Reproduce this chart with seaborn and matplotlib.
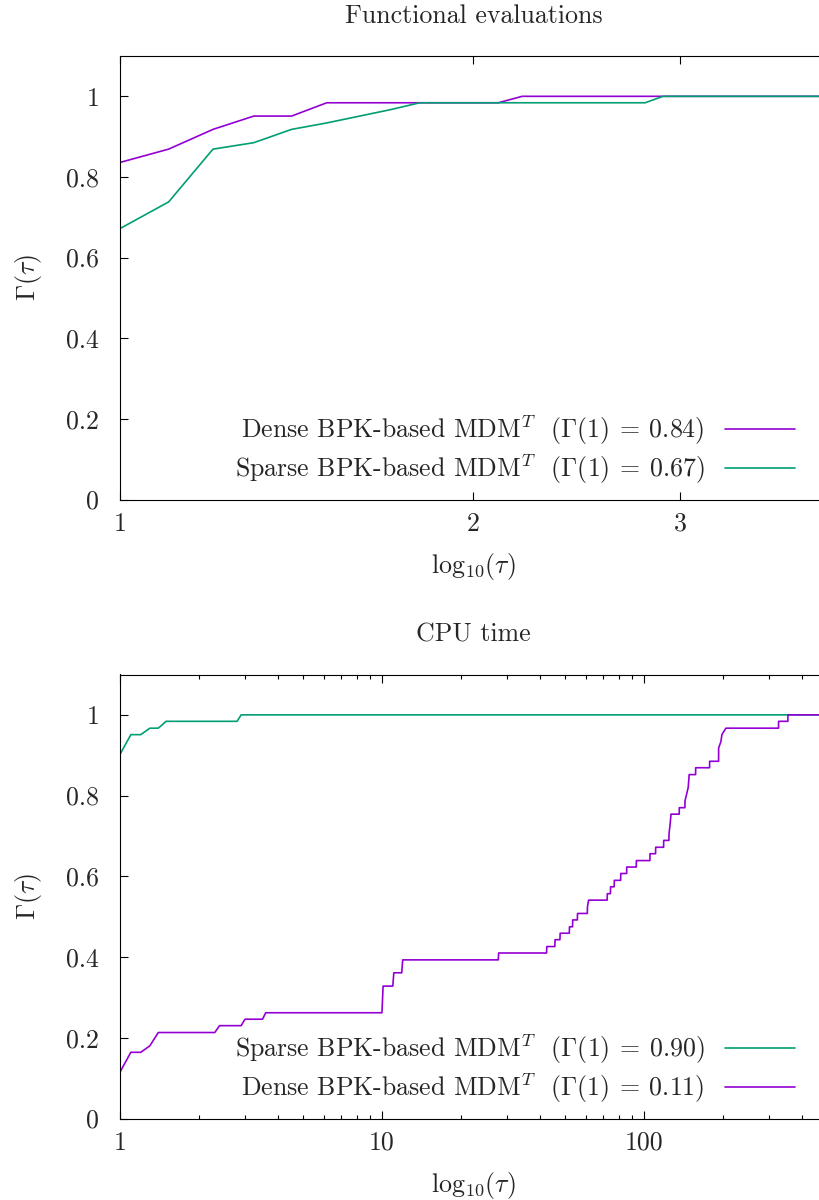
import matplotlib
matplotlib.use("Agg")
import matplotlib.pyplot as plt
import matplotlib.ticker as mticker
import pandas as pd
import seaborn as sns

# functional evaluations profile (tau, Gamma)
fe_dense_tau = [1.0, 1.1, 1.2, 1.3, 1.4, 1.5, 2.1, 2.2, 4.0]
fe_dense_gam = [0.836, 0.869, 0.918, 0.951, 0.951, 0.984, 0.984, 1.0, 1.0]
fe_sparse_tau = [1.0, 1.1, 1.2, 1.3, 1.4, 1.5, 1.6, 1.7, 1.8, 2.8, 2.9, 4.0]
fe_sparse_gam = [0.672, 0.738, 0.869, 0.885, 0.918, 0.934, 0.951, 0.967, 0.984, 0.984, 1.0, 1.0]

# cpu time profile
cpu_sparse_tau = [1.0, 1.1, 1.2, 1.3, 1.4, 1.5, 2.8, 2.9, 500]
cpu_sparse_gam = [0.902, 0.951, 0.951, 0.967, 0.967, 0.984, 0.984, 1.0, 1.0]
cpu_dense_tau = [1.0, 1.1, 1.2, 1.3, 1.4, 2.3, 2.4, 2.9, 3.0, 3.5, 3.6,
                 10.0, 10.1, 11.0, 11.1, 11.9, 12.0, 27.8, 27.9, 42.5, 42.6,
                 45.7, 45.8, 47.8, 47.9, 51.9, 52.0, 53.4, 53.5, 55.7, 55.8,
                 60.8, 60.9, 61.5, 72.4, 72.5, 74.5, 74.6, 77.0, 77.1, 81.5, 81.6,
                 85.9, 86.0, 93.5, 93.6, 105.4, 105.5, 110.8, 110.9, 118.9, 119.0,
                 124.6, 124.7, 125.5, 126.3, 126.9, 136.4, 136.5, 143.4, 143.5,
                 145.5, 147.6, 148.9, 157.5, 157.6, 178.1, 178.2, 192.8, 192.9,
                 196.8, 198.5, 205.6, 326.6, 326.7, 354.5, 354.6, 500]
cpu_dense_gam = [0.115, 0.164, 0.164, 0.180, 0.213, 0.213, 0.230, 0.230, 0.246, 0.246, 0.262,
                 0.262, 0.328, 0.328, 0.361, 0.361, 0.393, 0.393, 0.410, 0.410, 0.426,
                 0.426, 0.443, 0.443, 0.459, 0.459, 0.475, 0.475, 0.492, 0.492, 0.508,
                 0.508, 0.525, 0.541, 0.541, 0.557, 0.557, 0.574, 0.574, 0.590, 0.590, 0.607,
                 0.607, 0.623, 0.623, 0.639, 0.639, 0.656, 0.656, 0.672, 0.672, 0.689,
                 0.689, 0.705, 0.721, 0.738, 0.754, 0.754, 0.770, 0.770, 0.787,
                 0.803, 0.820, 0.852, 0.852, 0.869, 0.869, 0.885, 0.885, 0.918,
                 0.934, 0.951, 0.967, 0.967, 0.984, 0.984, 1.0, 1.0]

lab_fe_dense = r"Dense BPK-based MDM$^T$  ($\Gamma(1)\:=\:0.84$)"
lab_fe_sparse = r"Sparse BPK-based MDM$^T$  ($\Gamma(1)\:=\:0.67$)"
lab_cpu_sparse = r"Sparse BPK-based MDM$^T$  ($\Gamma(1)\:=\:0.90$)"
lab_cpu_dense = r"Dense BPK-based MDM$^T$  ($\Gamma(1)\:=\:0.11$)"

purple = "#9400d3"
green = "#009e73"

sns.set_theme(style="ticks")
plt.rcParams["font.family"] = ["serif"]
plt.rcParams["font.serif"] = ["cmr10", "DejaVu Serif"]
plt.rcParams["mathtext.fontset"] = "cm"
plt.rcParams["axes.formatter.use_mathtext"] = True
plt.rcParams["axes.unicode_minus"] = False

FS = 18.6

df_fe = pd.concat([
    pd.DataFrame({"tau": fe_dense_tau, "gamma": fe_dense_gam, "solver": lab_fe_dense}),
    pd.DataFrame({"tau": fe_sparse_tau, "gamma": fe_sparse_gam, "solver": lab_fe_sparse}),
])
df_cpu = pd.concat([
    pd.DataFrame({"tau": cpu_sparse_tau, "gamma": cpu_sparse_gam, "solver": lab_cpu_sparse}),
    pd.DataFrame({"tau": cpu_dense_tau, "gamma": cpu_dense_gam, "solver": lab_cpu_dense}),
])

fig = plt.figure(figsize=(8.2, 12), dpi=100)
ax1 = fig.add_axes([120 / 820, 1 - 499.5 / 1200, 707 / 820, 443.5 / 1200])
ax2 = fig.add_axes([120 / 820, 1 - 1118.5 / 1200, 707 / 820, 444 / 1200])


def style(ax, title, xmax, xt, xtl, minor):
    ax.set_xscale("log")
    ax.set_xlim(1, xmax)
    ax.set_ylim(0, 1.1)
    ax.xaxis.set_major_locator(mticker.FixedLocator(xt))
    ax.xaxis.set_major_formatter(mticker.FixedFormatter(xtl))
    if minor:
        ax.xaxis.set_minor_locator(mticker.LogLocator(base=10, subs=range(2, 10), numticks=20))
    else:
        ax.xaxis.set_minor_locator(mticker.NullLocator())
    ax.xaxis.set_minor_formatter(mticker.NullFormatter())
    ax.set_yticks([0, 0.2, 0.4, 0.6, 0.8, 1.0])
    ax.set_yticklabels(["0", "0.2", "0.4", "0.6", "0.8", "1"])
    ax.tick_params(which="both", direction="in", top=True, right=True,
                   color="black", width=0.8, labelsize=FS)
    ax.tick_params(which="major", length=5.8)
    ax.tick_params(which="minor", length=3)
    ax.tick_params(axis="x", pad=9)
    ax.tick_params(axis="y", pad=15)
    for s in ax.spines.values():
        s.set_color("black")
        s.set_linewidth(0.8)
    ax.set_title(title, fontsize=FS, pad=24)
    ax.set_xlabel(r"$\mathrm{log}_{10}(\tau)$", fontsize=FS, labelpad=11)
    ax.set_ylabel(r"$\Gamma(\tau)$", fontsize=FS, labelpad=16)
    ax.grid(False)


sns.lineplot(data=df_fe, x="tau", y="gamma", hue="solver",
             hue_order=[lab_fe_dense, lab_fe_sparse],
             palette={lab_fe_dense: purple, lab_fe_sparse: green},
             estimator=None, sort=False, linewidth=1.2, ax=ax1)
sns.lineplot(data=df_cpu, x="tau", y="gamma", hue="solver",
             hue_order=[lab_cpu_sparse, lab_cpu_dense],
             palette={lab_cpu_sparse: green, lab_cpu_dense: purple},
             estimator=None, sort=False, linewidth=1.2, ax=ax2)

style(ax1, "Functional evaluations", 4.0, [1, 2, 3], ["1", "2", "3"], False)
style(ax2, "CPU time", 500, [1, 10, 100], ["1", "10", "100"], True)

for ax in (ax1, ax2):
    h, l = ax.get_legend_handles_labels()
    ax.legend(h, l, loc="lower right", bbox_to_anchor=(0.955, 0.03),
              frameon=False, fontsize=FS, markerfirst=False,
              handlelength=2.7, handletextpad=0.8, labelspacing=0.2,
              borderaxespad=0, borderpad=0)

fig.savefig("out.png", dpi=100)
